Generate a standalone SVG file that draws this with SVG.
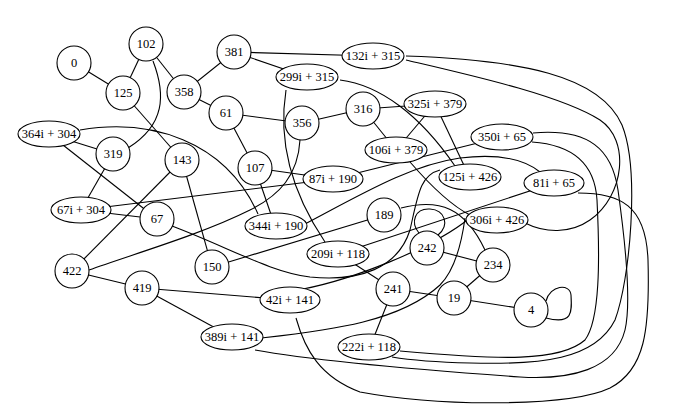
<svg xmlns="http://www.w3.org/2000/svg" width="688" height="420" viewBox="0 0 688 420">
<style>
.e{fill:none;stroke:#000;stroke-width:1.1}
.n circle,.n ellipse{fill:#fff;stroke:#000;stroke-width:1.1}
.n text{font-family:"Liberation Serif","DejaVu Serif",serif;font-size:12.5px;text-anchor:middle;dominant-baseline:central;fill:#000}
</style>
<rect width="688" height="420" fill="#fff"/>
<g id="edges" class="e">
<path d="M74,63L123,93"/>
<path d="M146,44L123,93"/>
<path d="M146,44L184,92"/>
<path d="M153,61C166,95 165,125 128,148"/>
<path d="M123,93L182,160"/>
<path d="M184,92L234,52"/>
<path d="M184,92L226,113"/>
<path d="M234,52L373,56"/>
<path d="M234,52L307,77"/>
<path d="M49,134L113,154"/>
<path d="M49,134L157,219"/>
<path d="M80,130C150,118 225,140 258,214"/>
<path d="M226,113L302,123"/>
<path d="M226,113L255,168"/>
<path d="M113,154L81,210"/>
<path d="M182,160L212,267"/>
<path d="M182,160L72,271"/>
<path d="M81,210L157,219"/>
<path d="M81,210L333,179"/>
<path d="M172,226C230,248 270,272 310,277C360,282 398,268 410,230C418,195 420,175 440,170"/>
<path d="M255,168L275,226"/>
<path d="M255,168L333,179"/>
<path d="M302,123L363,109"/>
<path d="M300,140C298,175 280,195 250,210C200,235 130,255 89,270"/>
<path d="M286,90C278,140 290,190 325,242"/>
<path d="M340,80C380,85 420,115 455,166"/>
<path d="M363,109L435,104"/>
<path d="M363,109L396,150"/>
<path d="M435,104L396,150"/>
<path d="M435,104L469,176"/>
<path d="M410,162C430,185 450,205 470,215"/>
<path d="M333,179L502,137"/>
<path d="M303,225C360,195 410,165 460,158C500,153 525,160 540,172"/>
<path d="M212,267L384,215"/>
<path d="M339,254L554,183"/>
<path d="M339,254L393,289"/>
<path d="M401,208C440,198 465,208 485,250"/>
<path d="M419,233C410,222 415,208 430,209C445,210 450,225 438,235"/>
<path d="M427,248L492,265"/>
<path d="M492,265L454,298"/>
<path d="M393,289L454,298"/>
<path d="M454,298L531,310"/>
<path d="M393,289L370,347"/>
<path d="M546,301C550,285 570,283 571,295C572,312 573,325 546,318"/>
<path d="M72,271L142,288"/>
<path d="M142,288L289,300"/>
<path d="M142,288L232,337"/>
<path d="M303,289C350,280 430,250 470,218"/>
<path d="M262,338C330,330 400,322 440,285C455,270 462,240 465,218"/>
<path d="M406,60C470,75 560,95 600,120C630,140 625,195 590,220C570,234 545,233 525,223"/>
<path d="M406,56C520,60 600,75 622,125C640,170 630,280 615,320C595,360 540,365 470,363C430,362 410,360 392,357"/>
<path d="M533,133C590,128 612,150 618,190C625,240 632,300 625,330C615,370 570,380 520,377C450,372 320,362 255,350"/>
<path d="M532,142C575,145 595,165 597,200C600,260 600,320 585,340C560,362 500,360 400,351"/>
<path d="M578,193C620,193 646,205 648,260C650,330 645,370 610,388C570,407 440,407 360,392C320,377 305,350 296,318"/>
</g>
<g id="n0" class="n"><circle cx="74" cy="63" r="17"/><text x="74" y="63">0</text></g>
<g id="n102" class="n"><circle cx="146" cy="44" r="17"/><text x="146" y="44">102</text></g>
<g id="n125" class="n"><circle cx="123" cy="93" r="17"/><text x="123" y="93">125</text></g>
<g id="n358" class="n"><circle cx="184" cy="92" r="17"/><text x="184" y="92">358</text></g>
<g id="n381" class="n"><circle cx="234" cy="52" r="17"/><text x="234" y="52">381</text></g>
<g id="n61" class="n"><circle cx="226" cy="113" r="17"/><text x="226" y="113">61</text></g>
<g id="n319" class="n"><circle cx="113" cy="154" r="17"/><text x="113" y="154">319</text></g>
<g id="n143" class="n"><circle cx="182" cy="160" r="17"/><text x="182" y="160">143</text></g>
<g id="n107" class="n"><circle cx="255" cy="168" r="17"/><text x="255" y="168">107</text></g>
<g id="n67" class="n"><circle cx="157" cy="219" r="17"/><text x="157" y="219">67</text></g>
<g id="n422" class="n"><circle cx="72" cy="271" r="17"/><text x="72" y="271">422</text></g>
<g id="n150" class="n"><circle cx="212" cy="267" r="17"/><text x="212" y="267">150</text></g>
<g id="n419" class="n"><circle cx="142" cy="288" r="17"/><text x="142" y="288">419</text></g>
<g id="n316" class="n"><circle cx="363" cy="109" r="17"/><text x="363" y="109">316</text></g>
<g id="n356" class="n"><circle cx="302" cy="123" r="17"/><text x="302" y="123">356</text></g>
<g id="n189" class="n"><circle cx="384" cy="215" r="17"/><text x="384" y="215">189</text></g>
<g id="n242" class="n"><circle cx="427" cy="248" r="17"/><text x="427" y="248">242</text></g>
<g id="n234" class="n"><circle cx="493" cy="265" r="17"/><text x="493" y="265">234</text></g>
<g id="n241" class="n"><circle cx="393" cy="289" r="17"/><text x="393" y="289">241</text></g>
<g id="n19" class="n"><circle cx="454" cy="298" r="17"/><text x="454" y="298">19</text></g>
<g id="n4" class="n"><circle cx="531" cy="310" r="17"/><text x="531" y="310">4</text></g>
<g id="n364i304" class="n"><ellipse cx="49" cy="134" rx="31" ry="13"/><text x="49" y="134">364i + 304</text></g>
<g id="n132i315" class="n"><ellipse cx="373" cy="56" rx="31" ry="13"/><text x="373" y="56">132i + 315</text></g>
<g id="n299i315" class="n"><ellipse cx="307" cy="77" rx="31" ry="13"/><text x="307" y="77">299i + 315</text></g>
<g id="n325i379" class="n"><ellipse cx="435" cy="104" rx="31" ry="13"/><text x="435" y="104">325i + 379</text></g>
<g id="n106i379" class="n"><ellipse cx="396" cy="150" rx="31" ry="13"/><text x="396" y="150">106i + 379</text></g>
<g id="n350i65" class="n"><ellipse cx="502" cy="137" rx="31" ry="13"/><text x="502" y="137">350i + 65</text></g>
<g id="n125i426" class="n"><ellipse cx="470" cy="177" rx="31" ry="13"/><text x="470" y="177">125i + 426</text></g>
<g id="n87i190" class="n"><ellipse cx="333" cy="179" rx="30" ry="13"/><text x="333" y="179">87i + 190</text></g>
<g id="n81i65" class="n"><ellipse cx="554" cy="183" rx="30" ry="13"/><text x="554" y="183">81i + 65</text></g>
<g id="n67i304" class="n"><ellipse cx="81" cy="210" rx="30" ry="13"/><text x="81" y="210">67i + 304</text></g>
<g id="n344i190" class="n"><ellipse cx="276" cy="226" rx="31" ry="13"/><text x="276" y="226">344i + 190</text></g>
<g id="n306i426" class="n"><ellipse cx="497" cy="220" rx="31" ry="13"/><text x="497" y="220">306i + 426</text></g>
<g id="n209i118" class="n"><ellipse cx="338" cy="254" rx="31" ry="13"/><text x="338" y="254">209i + 118</text></g>
<g id="n42i141" class="n"><ellipse cx="290" cy="300" rx="30" ry="13"/><text x="290" y="300">42i + 141</text></g>
<g id="n389i141" class="n"><ellipse cx="232" cy="337" rx="31" ry="13"/><text x="232" y="337">389i + 141</text></g>
<g id="n222i118" class="n"><ellipse cx="369" cy="347" rx="31" ry="13"/><text x="369" y="347">222i + 118</text></g>
</svg>
